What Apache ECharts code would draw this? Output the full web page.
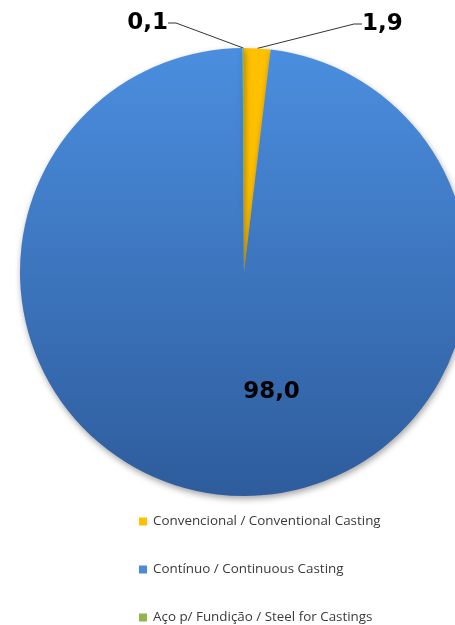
<!DOCTYPE html>
<html><head><meta charset="utf-8">
<script src="https://cdn.jsdelivr.net/npm/echarts@6/dist/echarts.min.js"></script>
<style>html,body{margin:0;padding:0;background:#fff}#c{width:455px;height:625px}</style>
</head><body><div id="c"></div>
<script>
var categories = ['Convencional / Conventional Casting', 'Contínuo / Continuous Casting', 'Aço p/ Fundição / Steel for Castings'];
var values = [1.9, 98.0, 0.1];
var colors = ['#FFC000', '#4A8AD8', '#8DB548'];

var chart = echarts.init(document.getElementById('c'));
var blueGrad = new echarts.graphic.LinearGradient(0, 0, 0, 1, [
  {offset: 0, color: '#4B8EDF'}, {offset: 1, color: '#2E5C9C'}
]);
var data = categories.map(function (n, i) {
  var item = {name: n, value: values[i], itemStyle: {color: i === 1 ? blueGrad : colors[i]}};
  if (i === 1) item.label = {position: 'inside'};
  return item;
});
chart.setOption({
  animation: false,
  legend: {
    orient: 'vertical', left: 139, top: 515, itemGap: 35, padding: 0,
    itemWidth: 8, itemHeight: 8, icon: 'rect',
    data: categories.map(function (n, i) { return {name: n, itemStyle: {color: colors[i]}}; }),
    textStyle: {fontFamily: 'Open Sans', fontSize: 13.4, color: '#3a3a3a', lineHeight: 13, padding: [0, 0, 0, 1]}
  },
  series: [{
    type: 'pie', center: [244, 272], radius: 224, startAngle: 90, clockwise: true,
    minAngle: 0, avoidLabelOverlap: false, percentPrecision: 1,
    itemStyle: {shadowBlur: 6, shadowOffsetY: 3, shadowOffsetX: 1, shadowColor: 'rgba(0,0,0,0.35)'},
    label: {
      show: true, position: 'outside',
      formatter: function (p) { return p.value.toFixed(1).replace('.', ','); },
      fontFamily: 'DejaVu Sans', fontWeight: 'bold', fontSize: 23, color: '#000'
    },
    labelLine: {show: true, length: 10, length2: 8, lineStyle: {color: '#333', width: 1}},
    labelLayout: function (p) {
      if (p.dataIndex === 0) return {x: 362, y: 24, align: 'left', verticalAlign: 'middle'};
      if (p.dataIndex === 2) return {x: 168, y: 23, align: 'right', verticalAlign: 'middle'};
      return {dx: 34, dy: 5};
    },
    data: data
  }]
});
</script></body></html>
